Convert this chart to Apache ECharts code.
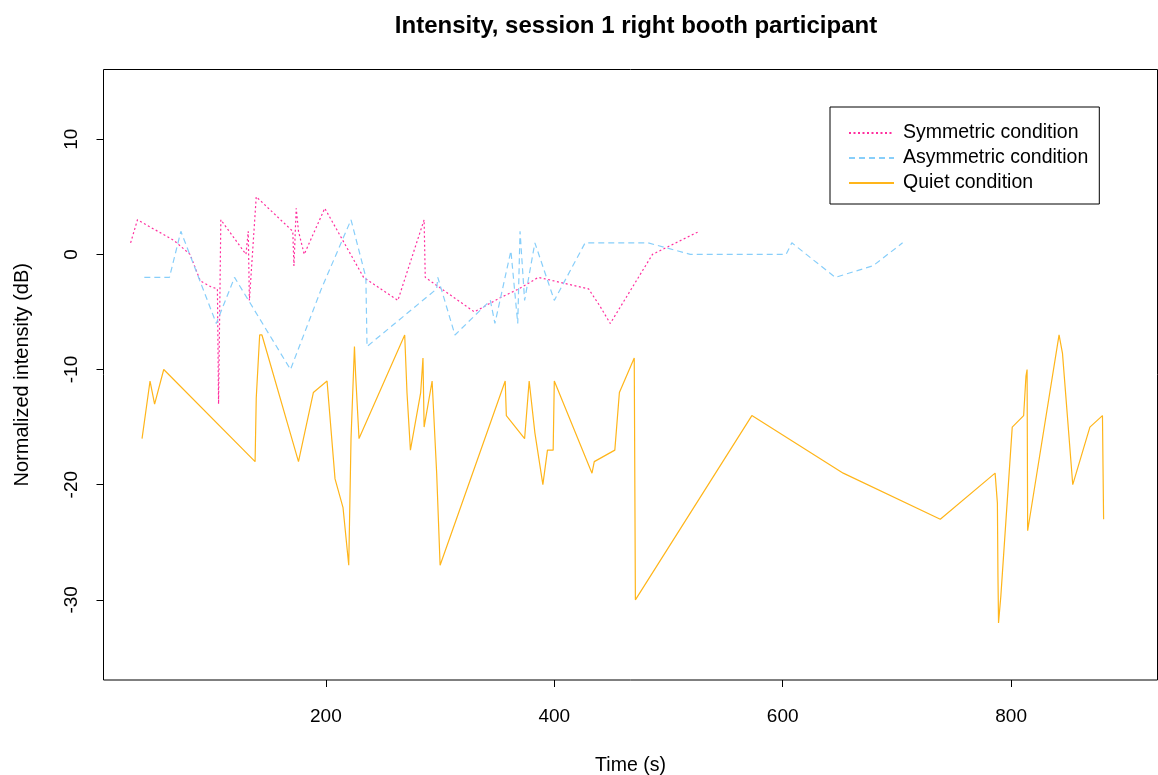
<!DOCTYPE html>
<html>
<head>
<meta charset="utf-8">
<script src="https://cdn.jsdelivr.net/npm/echarts@6/dist/echarts.min.js"></script>
<style>
  html, body { margin: 0; padding: 0; background: #fff; }
  #chart { width: 1158px; height: 775px; }
</style>
</head>
<body>
<div id="chart"></div>
<script>
// Normalized intensity over time (s, dB) for each condition
const symmetric = [
  [29, 1], [35, 3], [67, 1.2], [81, 0], [90, -2.3], [99, -2.8], [105, -3], [106, -13],
  [108, 3], [130, 0], [132, 2], [133, -4], [139, 5], [171, 2], [172, -1], [174, 4],
  [176, 2], [181, 0], [199, 4], [233, -2], [263, -4], [286, 3], [287, -2], [330, -5],
  [352, -3.8], [369, -3], [386, -2], [395, -2.2], [430, -3], [440, -4.5], [449, -6],
  [486, 0], [527, 2]
];
const asymmetric = [
  [41, -2], [63, -2], [73, 2], [104, -6], [120, -2], [169, -10], [196, -3], [222, 3],
  [235, -2], [236, -8], [297, -3], [298, -2], [313, -7], [344, -4], [348, -6], [362, 0.3],
  [368, -6], [370, 2], [374, -4], [383, 1], [400, -4], [427, 1], [482, 1], [519, 0],
  [603, 0], [608, 1], [646, -2], [679, -1], [705, 1]
];
const quiet = [
  [39, -16], [46, -11], [50, -13], [58, -10], [138, -18], [139, -12.5], [142, -7], [144, -7],
  [176, -18], [189, -12], [201, -11], [208, -19.5], [215, -22], [220, -27], [222, -16],
  [225, -8], [226, -10.4], [229, -16], [269, -7], [271, -12], [274, -17], [283, -12],
  [285, -9], [286, -15], [293, -11], [297, -19], [300, -27], [357, -11], [358, -14],
  [374, -16], [378, -11], [383, -15.5], [390, -20], [394, -17], [399, -17], [400, -11],
  [433, -19], [435, -18], [453, -17], [457, -12], [470, -9], [471, -30], [573, -14],
  [653, -19], [738, -23], [786, -19], [788, -21.6], [788.5, -28], [789, -32], [791, -29.7],
  [801, -15], [811, -14], [813, -10.6], [814, -10], [814.5, -24], [842, -7], [845, -8.6],
  [854, -20], [869, -15], [880, -14], [880.5, -18.5], [881, -23]
];

const xTicks = [200, 400, 600, 800];
const yTicks = [-30, -20, -10, 0, 10];

const seriesNames = ['Symmetric condition', 'Asymmetric condition', 'Quiet condition'];
const seriesColors = ['#FF2E9E', '#87CEFA', '#FFB51A'];

const FONT = 'Liberation Sans, Arial, sans-serif';

const chart = echarts.init(document.getElementById('chart'), null, { renderer: 'canvas' });

chart.setOption({
  animation: false,
  backgroundColor: '#ffffff',
  title: {
    text: 'Intensity, session 1 right booth participant',
    left: 631,
    textAlign: 'center',
    top: 9,
    textStyle: { fontFamily: FONT, fontSize: 24, fontWeight: 'bold', color: '#000' }
  },
  legend: {
    left: 830,
    top: 107,
    orient: 'vertical',
    data: seriesNames,
    backgroundColor: '#fff',
    borderColor: '#000',
    borderWidth: 1,
    borderRadius: 0,
    padding: [16, 11, 11, 18],
    itemWidth: 45,
    itemHeight: 20,
    itemGap: 5,
    itemStyle: { opacity: 0 },
    textStyle: { fontFamily: FONT, fontSize: 19.5, color: '#000', padding: [0, 0, 0, 4] }
  },
  grid: {
    left: 103.5,
    right: 0.5,
    top: 69.5,
    bottom: 95,
    outerBoundsMode: 'none',
    containLabel: false,
    show: true,
    borderColor: '#000',
    borderWidth: 1,
    backgroundColor: 'transparent'
  },
  xAxis: {
    type: 'value',
    min: 5.25,
    max: 928.2,
    name: 'Time (s)',
    nameLocation: 'middle',
    nameGap: 76,
    nameTextStyle: { fontFamily: FONT, fontSize: 19.5, color: '#000' },
    axisLine: { show: false, onZero: false },
    splitLine: { show: false },
    axisTick: { show: true, length: 7, customValues: xTicks, lineStyle: { color: '#000' } },
    axisLabel: {
      customValues: xTicks,
      margin: 27,
      fontFamily: FONT, fontSize: 19, color: '#000'
    }
  },
  yAxis: {
    type: 'value',
    min: -36.96,
    max: 16.05,
    name: 'Normalized intensity (dB)',
    nameLocation: 'middle',
    nameRotate: 90,
    nameGap: 71,
    nameTextStyle: { fontFamily: FONT, fontSize: 20, color: '#000' },
    axisLine: { show: false, onZero: false },
    splitLine: { show: false },
    axisTick: { show: true, length: 7, customValues: yTicks, lineStyle: { color: '#000' } },
    axisLabel: {
      customValues: yTicks,
      rotate: 90,
      margin: 22,
      fontFamily: FONT, fontSize: 19, color: '#000'
    }
  },
  series: [
    {
      name: seriesNames[0], type: 'line', data: symmetric,
      showSymbol: false, symbol: 'none',
      color: seriesColors[0],
      lineStyle: { width: 1.2, type: [2, 2.5], color: seriesColors[0] }
    },
    {
      name: seriesNames[1], type: 'line', data: asymmetric,
      showSymbol: false, symbol: 'none',
      color: seriesColors[1],
      lineStyle: { width: 1.2, type: [6, 4], color: seriesColors[1] }
    },
    {
      name: seriesNames[2], type: 'line', data: quiet,
      showSymbol: false, symbol: 'none',
      color: seriesColors[2],
      lineStyle: { width: 1.2, type: 'solid', color: seriesColors[2] }
    }
  ]
});
</script>
</body>
</html>
